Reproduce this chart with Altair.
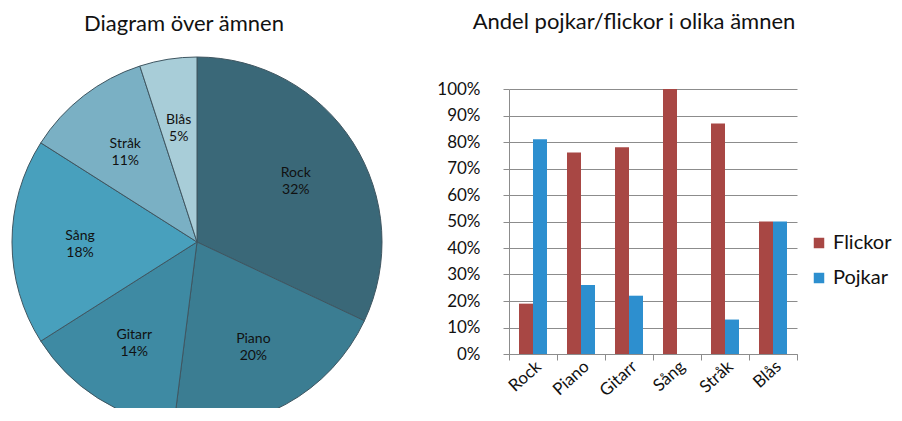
import altair as alt
import pandas as pd

# ---- data ----
amnen = ["Rock", "Piano", "Gitarr", "Sång", "Stråk", "Blås"]
andel_amne = [32, 20, 14, 18, 11, 5]
pie_colors = ["#3a6878", "#3b7d92", "#3e8aa3", "#48a0bd", "#7ab0c4", "#a8cdd8"]

kon = ["Flickor", "Pojkar"]
flickor = [19, 76, 78, 100, 87, 50]
pojkar = [81, 26, 22, 0, 13, 50]
bar_colors = ["#a84744", "#2d8fcf"]
y_ticks = list(range(0, 101, 10))

FONT = "Lato"
GRID = "#8c8c8c"
TXT = "#111111"

pie_df = pd.DataFrame({"amne": amnen, "andel": andel_amne,
                       "ordning": list(range(len(amnen)))})
bar_df = pd.DataFrame({
    "amne": amnen * 2,
    "kon": [kon[0]] * len(amnen) + [kon[1]] * len(amnen),
    "varde": flickor + pojkar,
})

# ---- pie ----
CX, CY = 189, 192
base = alt.Chart(pie_df).encode(
    theta=alt.Theta("andel:Q", stack=True),
    order=alt.Order("ordning:Q"),
)
arcs = base.mark_arc(outerRadius=185, x=CX, y=CY, stroke="#3f5661",
                     strokeWidth=1, clip=True).encode(
    color=alt.Color("amne:N", scale=alt.Scale(domain=amnen, range=pie_colors),
                    legend=None)
)
labels = base.transform_calculate(
    label="datum.amne + '\\n' + datum.andel + '%'"
).mark_text(radius=117, x=CX, y=CY, dy=-6, lineBreak="\n", font=FONT,
            fontSize=14, lineHeight=17, color=TXT).encode(text="label:N")

pie = alt.layer(arcs, labels).properties(
    width=376, height=358,
    title=alt.TitleParams("Diagram över ämnen", font=FONT, fontSize=22,
                          fontWeight="normal", color=TXT, offset=14, dx=-12),
)

# ---- bars ----
bars = alt.Chart(bar_df).mark_bar().encode(
    x=alt.X("amne:N", sort=amnen,
            scale=alt.Scale(paddingInner=0, paddingOuter=0),
            axis=alt.Axis(title=None, labelAngle=318, tickBand="extent",
                          grid=False, domainColor=GRID, tickColor=GRID,
                          tickSize=6, labelFont=FONT, labelFontSize=17,
                          labelColor=TXT, labelPadding=-2)),
    xOffset=alt.XOffset("kon:N", sort=kon,
                        scale=alt.Scale(paddingInner=0, paddingOuter=0.714)),
    y=alt.Y("varde:Q", scale=alt.Scale(domain=[0, 100], range=[304, 39]),
            axis=alt.Axis(title=None, values=y_ticks,
                          labelExpr="datum.value + '%'", grid=True,
                          gridColor=GRID, domainColor=GRID, tickColor=GRID,
                          tickSize=6, labelPadding=23, labelFont=FONT,
                          labelFontSize=17, labelColor=TXT)),
    color=alt.Color("kon:N", scale=alt.Scale(domain=kon, range=bar_colors),
                    legend=alt.Legend(title=None, orient="none", legendX=300,
                                      legendY=183, symbolType="square",
                                      symbolSize=110, symbolStrokeWidth=0,
                                      labelFont=FONT, labelFontSize=20,
                                      labelColor=TXT, labelOffset=4,
                                      rowPadding=15)),
).properties(
    width=288, height=304,
    title=alt.TitleParams("Andel pojkar/flickor i olika ämnen", font=FONT,
                          fontSize=22, fontWeight="normal", color=TXT,
                          offset=16, dx=-19),
)

chart = alt.hconcat(pie, bars, spacing=52).resolve_scale(
    color="independent"
).properties(
    padding={"left": 0, "top": 3, "right": 0, "bottom": 0}
).configure_view(stroke=None)

chart.save("out.html", embed_options={"renderer": "svg", "actions": False})
